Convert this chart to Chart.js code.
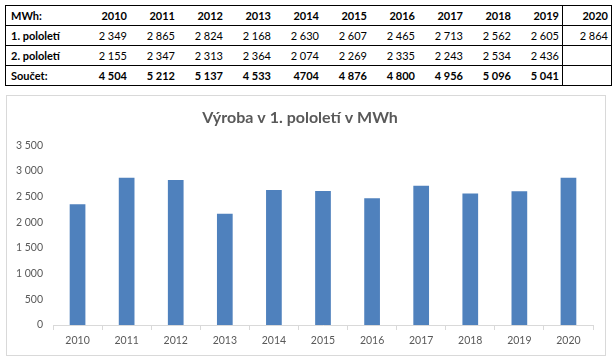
<!DOCTYPE html>
<html>
<head>
<meta charset="utf-8">
<script src="https://cdn.jsdelivr.net/npm/chart.js@4"></script>
<style>
  body { margin: 0; background: #fff; font-family: Lato, sans-serif; }
  #tbl { position: absolute; left: 5px; top: 5px; border-collapse: collapse; border: 1px solid #000; font-size: 11px; color: #000; }
  #tbl td { height: 19px; padding: 0 3px 0 0; text-align: right; border-top: 1px solid #000; border-bottom: 1px solid #000; width: 45px; }
  #tbl td.lab { width: 68px; text-align: left; padding-left: 5px; font-weight: bold; }
  #tbl td.last { border-left: 1px solid #000; }
  #tbl tr.head td, #tbl tr.sum td { font-weight: bold; }
  #box { position: absolute; left: 6px; top: 95px; width: 598px; height: 259px; border: 1px solid #d9d9d9; }
</style>
</head>
<body>
<table id="tbl"></table>
<div id="box"><canvas id="myChart"></canvas></div>
<script>
const years = ['2010', '2011', '2012', '2013', '2014', '2015', '2016', '2017', '2018', '2019', '2020']
const firstHalf = [2349, 2865, 2824, 2168, 2630, 2607, 2465, 2713, 2562, 2605, 2864]
const secondHalf = [2155, 2347, 2313, 2364, 2074, 2269, 2335, 2243, 2534, 2436, null]
const sumLabels = ['4 504', '5 212', '5 137', '4 533', '4704', '4 876', '4 800', '4 956', '5 096', '5 041', '']
const yTicks = [0, 500, 1000, 1500, 2000, 2500, 3000, 3500]

const fmt = v => v == null ? '' : String(v).replace(/\B(?=(\d{3})+(?!\d))/g, ' ')

// build the table
const tbl = document.getElementById('tbl')
function addRow(cls, label, cells){
  const tr = document.createElement('tr')
  if(cls) tr.className = cls
  let html = '<td class="lab">' + label + '</td>'
  cells.forEach((c, i) => {
    html += '<td' + (i == cells.length - 1 ? ' class="last"' : '') + '>' + c + '</td>'
  })
  tr.innerHTML = html
  tbl.appendChild(tr)
}
addRow('head', 'MWh:', years)
addRow('', '1. pololetí', firstHalf.map(fmt))
addRow('', '2. pololetí', secondHalf.map(fmt))
addRow('sum', 'Součet:', sumLabels)

const grey = '#595959'
const config = {
  type: 'bar',
  data: {
    labels: years,
    datasets: [{
      label: '1. pololetí',
      data: firstHalf,
      backgroundColor: '#4f81bd',
      barPercentage: 0.32,
      categoryPercentage: 1
    }]
  },
  options: {
    responsive: true,
    maintainAspectRatio: false,
    animation: false,
    layout: { padding: { left: 0, right: 12, top: 0, bottom: 0 } },
    plugins: {
      legend: { display: false },
      tooltip: { enabled: false },
      title: {
        display: true,
        text: 'Výroba v 1. pololetí v MWh',
        color: grey,
        font: { family: 'Lato', size: 16, weight: 'bold', lineHeight: 1.2 },
        padding: { top: 12, bottom: 18 }
      }
    },
    scales: {
      x: {
        grid: { display: true, drawOnChartArea: false, drawTicks: true, tickLength: 5, color: '#d9d9d9', offset: true },
        border: { display: true, color: '#d9d9d9' },
        ticks: { color: grey, font: { family: 'Lato', size: 10.5 }, padding: 4, maxRotation: 0, autoSkip: false },
        afterFit: s => { s.height = 30 }
      },
      y: {
        min: 0,
        max: 3500,
        grid: { display: false, drawTicks: false },
        border: { display: false },
        afterBuildTicks: s => { s.ticks = yTicks.map(v => ({ value: v })) },
        ticks: { color: grey, font: { family: 'Lato', size: 10.5 }, padding: 10, callback: v => fmt(v) },
        afterFit: s => { s.width = 46 }
      }
    }
  }
}

const myChart = new Chart(document.getElementById('myChart'), config)
</script>
</body>
</html>
